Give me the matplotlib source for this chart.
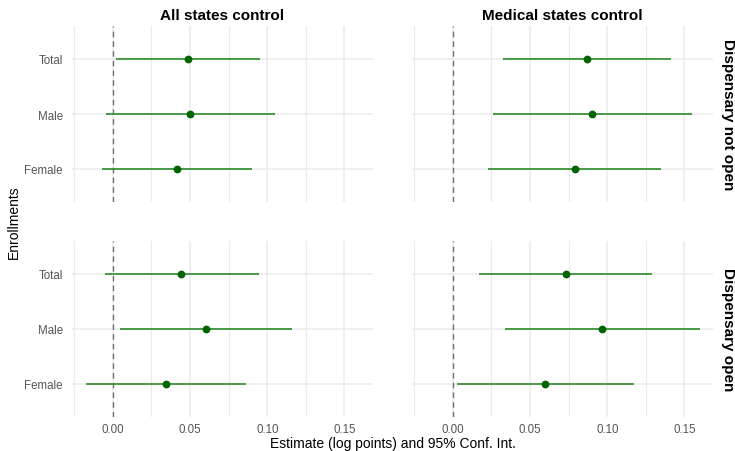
import matplotlib
matplotlib.use("Agg")
import matplotlib.pyplot as plt

plt.rcParams['font.family'] = ['Liberation Sans', 'DejaVu Sans']

groups = ["Female", "Male", "Total"]
col_titles = ["All states control", "Medical states control"]
row_titles = ["Dispensary not open", "Dispensary open"]

# estimates and 95% CI, order Female, Male, Total
est = {
    (0, 0): [0.0416, 0.0500, 0.0485],
    (0, 1): [0.0789, 0.0903, 0.0868],
    (1, 0): [0.0341, 0.0601, 0.0444],
    (1, 1): [0.0595, 0.0969, 0.0731],
}
lo = {
    (0, 0): [-0.0069, -0.0045, 0.0017],
    (0, 1): [0.0230, 0.0262, 0.0325],
    (1, 0): [-0.0175, 0.0045, -0.0052],
    (1, 1): [0.0024, 0.0340, 0.0168],
}
hi = {
    (0, 0): [0.0900, 0.1047, 0.0953],
    (0, 1): [0.1350, 0.1546, 0.1412],
    (1, 0): [0.0860, 0.1160, 0.0944],
    (1, 1): [0.1170, 0.1600, 0.1292],
}

W, H = 735, 452
fig = plt.figure(figsize=(W / 100, H / 100), dpi=100)

lefts = [72, 412]
tops = [27, 242]
pw, ph = 301, 176

grid_c = "#EBEBEB"
for r in range(2):
    for c in range(2):
        ax = fig.add_axes([lefts[c] / W, 1 - (tops[r] + ph) / H, pw / W, ph / H])
        for s in ax.spines.values():
            s.set_visible(False)
        ax.set_xlim(-0.0265, 0.1685)
        ax.set_ylim(-0.6, 2.6)
        ax.set_xticks([0, 0.05, 0.10, 0.15])
        ax.set_xticks([-0.025, 0.025, 0.075, 0.125], minor=True)
        ax.set_yticks(range(3))
        ax.set_yticklabels(groups)
        ax.grid(True, which="major", color=grid_c, lw=1.1)
        ax.grid(True, which="minor", axis="x", color=grid_c, lw=0.8)
        ax.set_axisbelow(True)
        ax.tick_params(length=0, labelsize=8.3, labelcolor="#555555")
        ax.tick_params(axis="y", pad=6.5)
        ax.tick_params(axis="x", pad=4)
        ax.tick_params(which="minor", length=0)
        if r == 0:
            ax.set_xticklabels([])
        else:
            ax.set_xticklabels(["0.00", "0.05", "0.10", "0.15"])
        if c == 1:
            ax.set_yticklabels([])
        ax.axvline(0, color="#707070", lw=1.0, ls=(0, (4, 3)))
        y = list(range(3))
        ax.hlines(y, lo[(r, c)], hi[(r, c)], color="#3A923A", lw=1.3)
        ax.plot(est[(r, c)], y, "o", color="#006400", ms=4.6, zorder=5)
        if r == 0:
            ax.set_title(col_titles[c], fontsize=11, fontweight="bold", pad=5)
        if c == 1:
            ax.text(1.025, 0.5, row_titles[r], transform=ax.transAxes,
                    rotation=-90, ha="left", va="center", fontsize=11,
                    fontweight="bold")

fig.text(392.5 / W, 1 - 444 / H, "Estimate (log points) and 95% Conf. Int.",
         ha="center", va="center", fontsize=10)
fig.text(14 / W, 1 - 222 / H, "Enrollments", rotation=90,
         ha="center", va="center", fontsize=10)

fig.savefig("out.png", dpi=100, facecolor="white")
